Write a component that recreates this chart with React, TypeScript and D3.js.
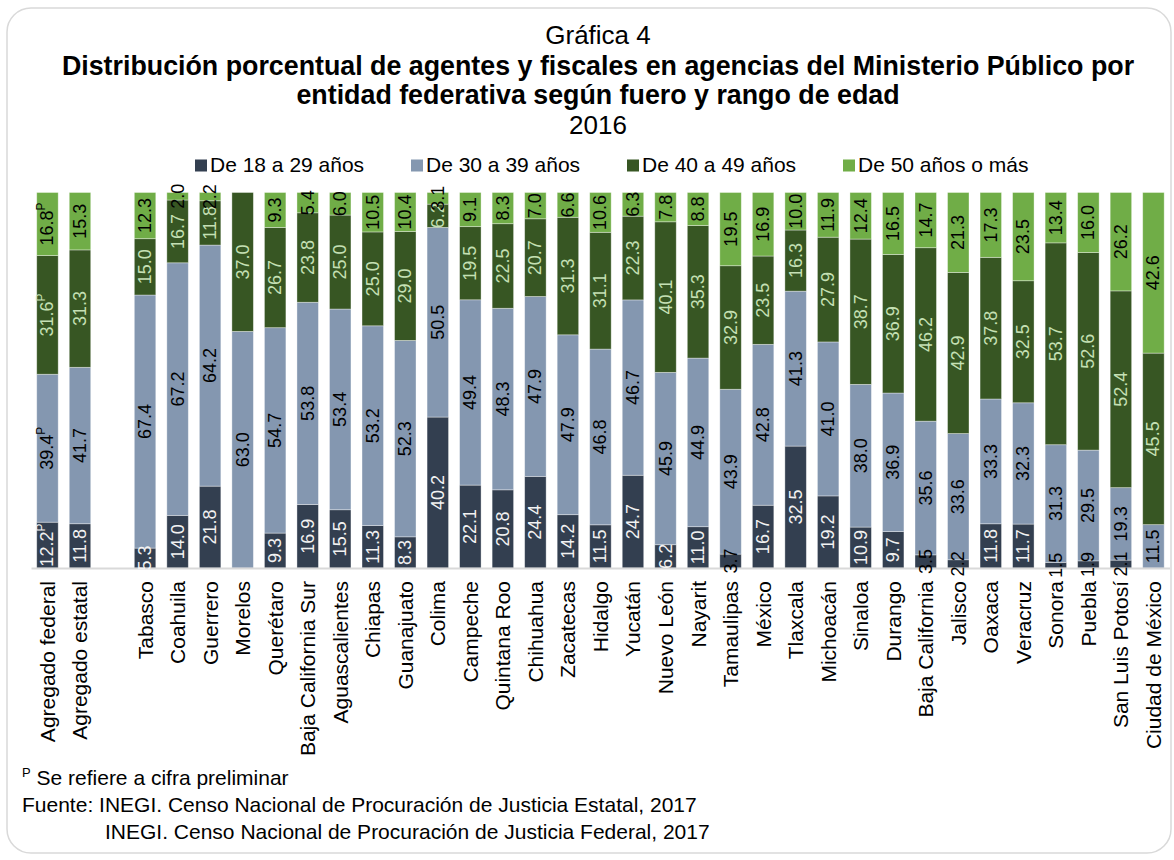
import React from 'react';
import * as d3 from 'd3';

// categories (blank slot separates aggregates from the states)
const categories = [
  'Agregado federal', 'Agregado estatal', ' ',
  'Tabasco', 'Coahuila', 'Guerrero', 'Morelos', 'Querétaro', 'Baja California Sur',
  'Aguascalientes', 'Chiapas', 'Guanajuato', 'Colima', 'Campeche', 'Quintana Roo',
  'Chihuahua', 'Zacatecas', 'Hidalgo', 'Yucatán', 'Nuevo León', 'Nayarit',
  'Tamaulipas', 'México', 'Tlaxcala', 'Michoacán', 'Sinaloa', 'Durango',
  'Baja California', 'Jalisco', 'Oaxaca', 'Veracruz', 'Sonora', 'Puebla',
  'San Luis Potosí', 'Ciudad de México'
];

const seriesNames = ['De 18 a 29 años', 'De 30 a 39 años', 'De 40 a 49 años', 'De 50 años o más'];

const age18to29 = [12.2, 11.8, 0, 5.3, 14.0, 21.8, 0, 9.3, 16.9, 15.5, 11.3, 8.3, 40.2, 22.1, 20.8, 24.4, 14.2, 11.5, 24.7, 6.2, 11.0, 3.7, 16.7, 32.5, 19.2, 10.9, 9.7, 3.5, 2.2, 11.8, 11.7, 1.5, 1.9, 2.1, 0];
const age30to39 = [39.4, 41.7, 0, 67.4, 67.2, 64.2, 63.0, 54.7, 53.8, 53.4, 53.2, 52.3, 50.5, 49.4, 48.3, 47.9, 47.9, 46.8, 46.7, 45.9, 44.9, 43.9, 42.8, 41.3, 41.0, 38.0, 36.9, 35.6, 33.6, 33.3, 32.3, 31.3, 29.5, 19.3, 11.5];
const age40to49 = [31.6, 31.3, 0, 15.0, 16.7, 11.8, 37.0, 26.7, 23.8, 25.0, 25.0, 29.0, 6.2, 19.5, 22.5, 20.7, 31.3, 31.1, 22.3, 40.1, 35.3, 32.9, 23.5, 16.3, 27.9, 38.7, 36.9, 46.2, 42.9, 37.8, 32.5, 53.7, 52.6, 52.4, 45.5];
const age50plus = [16.8, 15.3, 0, 12.3, 2.0, 2.2, 0, 9.3, 5.4, 6.0, 10.5, 10.4, 3.1, 9.1, 8.3, 7.0, 6.6, 10.6, 6.3, 7.8, 8.8, 19.5, 16.9, 10.0, 11.9, 12.4, 16.5, 14.7, 21.3, 17.3, 23.5, 13.4, 16.0, 26.2, 42.6];

// preliminary figures get a superscript P
const preliminary = ['Agregado federal'];

const colors = ['#333F50', '#8497B0', '#375623', '#70AD47'];
const labelColors = ['#F2F2F2', '#000000', '#C5E0B4', '#000000'];

const FONT = '"Liberation Sans", Arial, sans-serif';

const App = () => {
  const width = 1174;
  const height = 860;
  const baseY = 568;
  const topY = 192.5;

  const keys = ['a', 'b', 'c', 'd'];
  const table = categories.map((cat, i) => ({
    cat,
    a: age18to29[i], b: age30to39[i], c: age40to49[i], d: age50plus[i]
  }));
  // 100% stacked, the blank slot is skipped when drawing
  const stacked = d3.stack().keys(keys).offset(d3.stackOffsetExpand)(table as any);

  const x = d3.scaleBand()
    .domain(categories)
    .range([31.2, 1169.7])
    .paddingInner(0.34)
    .paddingOuter(0.17);

  const y = d3.scaleLinear().domain([0, 1]).range([baseY, topY]);

  const legendX = [195, 411, 627, 843];

  return (
    <div style={{ position: 'absolute', left: 0, top: 0 }}>
      <svg width={width} height={height} style={{ display: 'block', fontFamily: FONT }}>
        <rect x={7} y={8} width={1164} height={845} rx={24} fill="#fff" stroke="#D9D9D9" strokeWidth={1.5} />

        {/* titles */}
        <text x={598} y={44} textAnchor="middle" fontSize={26} fill="#000">Gráfica 4</text>
        <text x={598} y={74.5} textAnchor="middle" fontSize={26.8} fontWeight="bold" fill="#000">
          Distribución porcentual de agentes y fiscales en agencias del Ministerio Público por
        </text>
        <text x={598} y={103.5} textAnchor="middle" fontSize={26.8} fontWeight="bold" fill="#000">
          entidad federativa según fuero y rango de edad
        </text>
        <text x={598} y={134} textAnchor="middle" fontSize={26} fill="#000">2016</text>

        {/* legend */}
        {seriesNames.map((name, i) => (
          <g key={name} transform={`translate(${legendX[i]}, 0)`}>
            <rect x={0} y={159.5} width={12} height={12} fill={colors[i]} />
            <text x={15} y={172} fontSize={21} fill="#000">{name}</text>
          </g>
        ))}

        {/* bars */}
        {stacked.map((layer, si) => (
          <g key={layer.key}>
            {layer.map((d: any, ci: number) => {
              const cat = categories[ci];
              if (cat.trim() === '') return null;
              const v = table[ci][keys[si]];
              if (!v) return null;
              return (
                <rect key={cat} x={x(cat)} width={x.bandwidth()}
                  y={y(d[1])} height={y(d[0]) - y(d[1])}
                  fill={colors[si]} stroke="rgba(255,255,255,0.45)" strokeWidth={0.8} />
              );
            })}
          </g>
        ))}

        {/* axis line */}
        <line x1={31.5} x2={1170} y1={baseY + 0.5} y2={baseY + 0.5} stroke="#D9D9D9" strokeWidth={2} />

        {/* value labels */}
        {stacked.map((layer, si) => (
          <g key={'l' + layer.key}>
            {layer.map((d: any, ci: number) => {
              const cat = categories[ci];
              if (cat.trim() === '') return null;
              const v = table[ci][keys[si]];
              if (!v) return null;
              const cx = (x(cat) as number) + x.bandwidth() / 2;
              const cy = (y(d[0]) + y(d[1])) / 2;
              let fill = labelColors[si];
              if (si === 0 && v < 5) fill = '#000';
              return (
                <text key={cat} transform={`translate(${cx}, ${cy}) rotate(-90)`}
                  textAnchor="middle" dominantBaseline="central" fontSize={18} fill={fill}>
                  {v.toFixed(1)}
                  {preliminary.includes(cat) && (
                    <tspan fontSize={12} dy={-6}>P</tspan>
                  )}
                </text>
              );
            })}
          </g>
        ))}

        {/* category labels */}
        {categories.filter(c => c.trim() !== '').map(cat => (
          <text key={'c' + cat}
            transform={`translate(${(x(cat) as number) + x.bandwidth() / 2}, 581) rotate(-90)`}
            textAnchor="end" dominantBaseline="central" fontSize={21} fill="#000">
            {cat}
          </text>
        ))}

        {/* notes */}
        <text x={22} y={785} fontSize={21} fill="#000">
          <tspan fontSize={13} dy={-8}>P</tspan>
          <tspan dy={8}> Se refiere a cifra preliminar</tspan>
        </text>
        <text x={22} y={812} fontSize={21} fill="#000">
          Fuente: INEGI. Censo Nacional de Procuración de Justicia Estatal, 2017
        </text>
        <text x={105} y={839} fontSize={21} fill="#000">
          INEGI. Censo Nacional de Procuración de Justicia Federal, 2017
        </text>
      </svg>
    </div>
  );
};

export default App;
